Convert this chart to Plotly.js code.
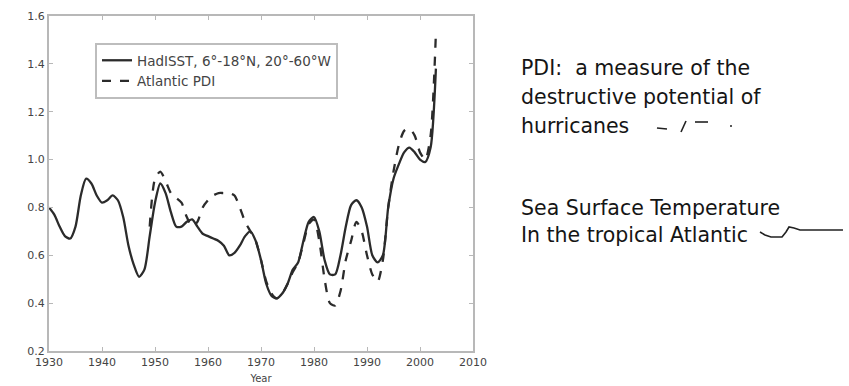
<!DOCTYPE html>
<html>
<head>
<meta charset="utf-8">
<script src="https://cdn.plot.ly/plotly-3.0.1.min.js"></script>
<style>html,body{margin:0;padding:0;background:#fff;}#chart{width:849px;height:386px;}</style>
</head>
<body>
<div id="chart"></div>
<script>
// ---- data ----
const sstYears = [1930,1931,1932,1933,1934,1935,1936,1937,1938,1939,1940,1941,1942,1943,1944,1945,1946,1947,1948,1949,1950,1951,1952,1953,1954,1955,1956,1957,1958,1959,1960,1961,1962,1963,1964,1965,1966,1967,1968,1969,1970,1971,1972,1973,1974,1975,1976,1977,1978,1979,1980,1981,1982,1983,1984,1985,1986,1987,1988,1989,1990,1991,1992,1993,1994,1995,1996,1997,1998,1999,2000,2001,2002,2003];
const sstValues = [0.80,0.77,0.72,0.68,0.67,0.72,0.85,0.92,0.90,0.85,0.82,0.83,0.85,0.83,0.76,0.64,0.56,0.51,0.54,0.68,0.82,0.90,0.86,0.78,0.72,0.72,0.74,0.75,0.72,0.69,0.68,0.67,0.66,0.64,0.60,0.61,0.64,0.68,0.70,0.66,0.58,0.48,0.43,0.42,0.44,0.48,0.54,0.57,0.66,0.74,0.76,0.70,0.58,0.52,0.52,0.60,0.72,0.81,0.83,0.80,0.72,0.60,0.57,0.60,0.80,0.92,0.98,1.03,1.05,1.03,1.00,0.99,1.05,1.38];
const pdiYears = [1949,1950,1951,1952,1953,1954,1955,1956,1957,1958,1959,1960,1961,1962,1963,1964,1965,1966,1967,1968,1969,1970,1971,1972,1973,1974,1975,1976,1977,1978,1979,1980,1981,1982,1983,1984,1985,1986,1987,1988,1989,1990,1991,1992,1993,1994,1995,1996,1997,1998,1999,2000,2001,2002,2003];
const pdiValues = [0.72,0.92,0.95,0.91,0.86,0.84,0.82,0.76,0.72,0.74,0.80,0.83,0.85,0.86,0.86,0.86,0.85,0.80,0.74,0.70,0.66,0.58,0.49,0.44,0.42,0.44,0.48,0.53,0.57,0.65,0.73,0.75,0.66,0.50,0.40,0.39,0.45,0.58,0.66,0.74,0.70,0.60,0.52,0.49,0.58,0.80,0.95,1.06,1.12,1.13,1.10,1.03,1.00,1.10,1.53];
const xTickVals = [1930,1940,1950,1960,1970,1980,1990,2000,2010];
const yTickVals = [0.2,0.4,0.6,0.8,1.0,1.2,1.4,1.6];
const yTickText = ['0.2','0.4','0.6','0.8','1.0','1.2','1.4','1.6'];
const seriesNames = ['HadISST, 6°-18°N, 20°-60°W','Atlantic PDI'];
const noteLines = ['PDI:&nbsp;&nbsp;a measure of the','destructive potential of','hurricanes','Sea Surface Temperature','In the tropical Atlantic'];

// ---- geometry helpers (plot area in px) ----
const L = 49, R = 473, T = 16, B = 351;
const px = x => (x - L) / (R - L);
const py = y => (B - y) / (B - T);

const FONT = 'DejaVu Sans, Arial, sans-serif';
const axisCol = '#b8b8b8';
const lineCol = '#2b2b2b';

const traces = [
  {x: sstYears, y: sstValues, name: seriesNames[0], type: 'scatter', mode: 'lines',
   line: {color: lineCol, width: 2.3, shape: 'spline', smoothing: 0.7}},
  {x: pdiYears, y: pdiValues, name: seriesNames[1], type: 'scatter', mode: 'lines',
   line: {color: lineCol, width: 2.3, dash: 'dash', shape: 'spline', smoothing: 0.7}}
];

const noteY = [68, 97, 126, 208, 235];
const annotations = noteLines.map((t, i) => ({
  text: t, xref: 'paper', yref: 'paper', x: px(519), y: py(noteY[i]),
  xanchor: 'left', yanchor: 'middle', showarrow: false,
  font: {family: FONT, size: 20.5, color: '#151515'}
}));

function seg(x0, y0, x1, y1, dash) {
  return {type: 'line', xref: 'paper', yref: 'paper', x0: px(x0), y0: py(y0), x1: px(x1), y1: py(y1),
          line: {color: '#222', width: 1.6, dash: dash || 'solid'}};
}
function pathP(pts) {
  return pts.map((p, i) => (i ? 'L' : 'M') + px(p[0]).toFixed(4) + ',' + py(p[1]).toFixed(4)).join(' ');
}
const shapes = [
  seg(657, 128, 667, 129), seg(681, 132, 686, 121), seg(695, 122, 708, 122), seg(730, 126, 732, 126),
  {type: 'path', xref: 'paper', yref: 'paper',
   path: pathP([[760,232],[765,235],[771,237],[782,237],[786,232],[789,227],[794,228],[800,230],[843,230]]),
   line: {color: '#222', width: 1.6}}
];

const layout = {
  width: 849, height: 386,
  margin: {l: L, r: 849 - R, t: T, b: 386 - B},
  paper_bgcolor: '#fff', plot_bgcolor: '#fff',
  font: {family: FONT, color: '#444'},
  showlegend: true,
  legend: {x: px(95), y: py(43), xanchor: 'left', yanchor: 'top',
           bgcolor: '#fff', bordercolor: '#bdbdbd', borderwidth: 2,
           font: {family: FONT, size: 13.5, color: '#444'}, tracegroupgap: 0},
  xaxis: {range: [1930, 2010], tickvals: xTickVals, ticks: 'inside', ticklen: 4, tickwidth: 1,
          tickcolor: axisCol, showline: true, linecolor: axisCol, linewidth: 2, mirror: 'ticks',
          showgrid: false, zeroline: false, tickfont: {family: FONT, size: 11, color: '#444'},
          title: {text: 'Year', font: {family: FONT, size: 10, color: '#444'}, standoff: 7}},
  yaxis: {range: [0.2, 1.6], tickvals: yTickVals, ticktext: yTickText, ticks: 'inside', ticklen: 4, tickwidth: 1,
          tickcolor: axisCol, showline: true, linecolor: axisCol, linewidth: 2, mirror: 'ticks',
          showgrid: false, zeroline: false, tickfont: {family: FONT, size: 11, color: '#444'}},
  annotations: annotations,
  shapes: shapes
};

Plotly.newPlot('chart', traces, layout, {staticPlot: true, displayModeBar: false});
</script>
</body>
</html>
